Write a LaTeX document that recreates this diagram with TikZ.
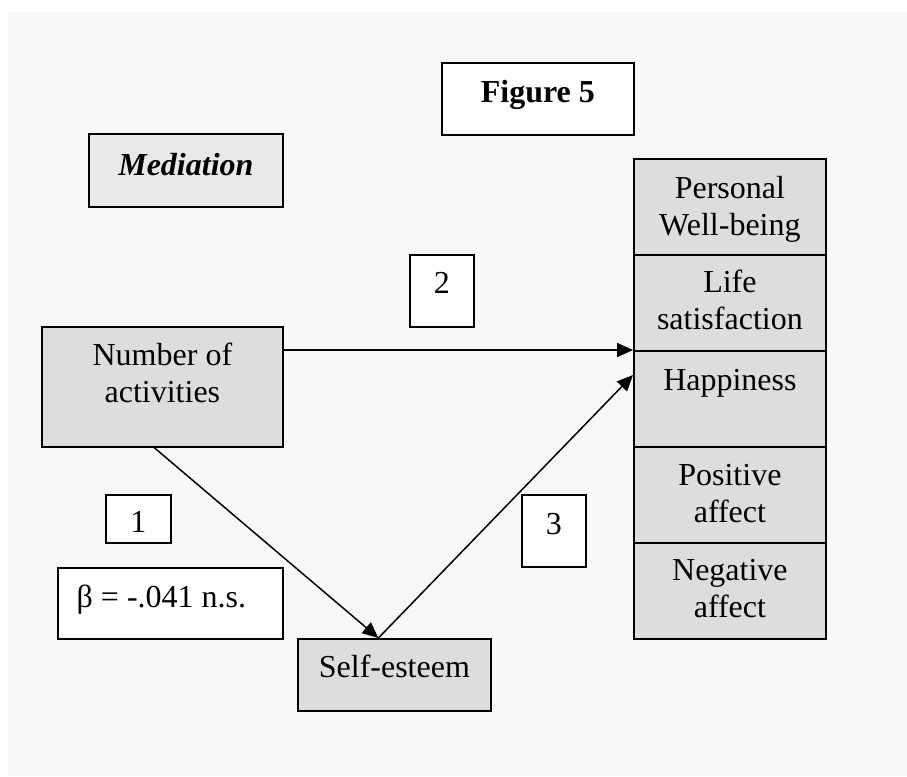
\documentclass[tikz,border=0pt]{standalone}
\usepackage{fontspec}
\setmainfont{Liberation Serif}
\usetikzlibrary{arrows.meta}
\definecolor{pagebg}{HTML}{F8F8F8}
\definecolor{boxgray}{HTML}{DDDDDD}
\definecolor{lightgray}{HTML}{E9E9E9}
\begin{document}
\begin{tikzpicture}[x=1pt,y=-1pt,
  frame/.style={draw=black, line width=1.8pt, rectangle, inner sep=0pt, anchor=north west},
  graybox/.style={frame, fill=boxgray},
  whitebox/.style={frame, fill=white},
  label/.style={anchor=base, inner sep=0pt, align=center,
    font=\fontsize{32}{37}\selectfont},
  link/.style={draw=black, line width=1.5pt, -{Triangle[length=16pt,width=14pt]}}]
  % page
  \path[use as bounding box, fill=white] (0,0) rectangle (907,776);
  \fill[pagebg] (8,12) rectangle (907,776);

  % title and heading
  \node[whitebox, minimum width=192pt, minimum height=72pt] (fig) at (441,62) {};
  \node[label, font=\fontsize{32}{37}\selectfont\bfseries] at ([yshift=-40pt]fig.north) {Figure 5};
  \node[frame, fill=lightgray, minimum width=194pt, minimum height=73pt] (med) at (88,133) {};
  \node[label, font=\fontsize{32}{37}\selectfont\bfseries\itshape] at ([yshift=-42pt]med.north) {Mediation};

  % predictor and mediator (two-line labels sit on their last baseline)
  \node[graybox, minimum width=241pt, minimum height=120pt] (act) at (41,326) {};
  \node[label] at ([yshift=-76pt]act.north) {Number of\\activities};
  \node[graybox, minimum width=193pt, minimum height=72pt] (self) at (297,638) {};
  \node[label] at ([yshift=-39pt]self.north) {Self-esteem};

  % outcome column
  \node[graybox, minimum width=192pt, minimum height=96pt] (pwb) at (633,158) {};
  \node[label] at ([yshift=-77pt]pwb.north) {Personal\\Well-being};
  \node[graybox, minimum width=192pt, minimum height=96pt] (life) at (633,254) {};
  \node[label] at ([yshift=-75pt]life.north) {Life\\satisfaction};
  \node[graybox, minimum width=192pt, minimum height=96pt] (hap) at (633,350) {};
  \node[label] at ([yshift=-40pt]hap.north) {Happiness};
  \node[graybox, minimum width=192pt, minimum height=96pt] (pos) at (633,446) {};
  \node[label] at ([yshift=-76pt]pos.north) {Positive\\affect};
  \node[graybox, minimum width=192pt, minimum height=96pt] (neg) at (633,542) {};
  \node[label] at ([yshift=-75pt]neg.north) {Negative\\affect};

  % path numbers and coefficient
  \node[whitebox, minimum width=64pt, minimum height=72pt] (p2) at (409,254) {};
  \node[label] at ([yshift=-39pt]p2.north) {2};
  \node[whitebox, minimum width=65pt, minimum height=48pt] (p1) at (105,494) {};
  \node[label] at ([yshift=-38pt]p1.north) {1};
  \node[whitebox, minimum width=225pt, minimum height=71pt] (beta) at (57,567) {};
  \node[label] at ([xshift=-9pt,yshift=-40pt]beta.north) {β = -.041 n.s.};
  \node[whitebox, minimum width=64pt, minimum height=72pt] (p3) at (521,494) {};
  \node[label] at ([yshift=-40pt]p3.north) {3};

  % paths
  \draw[link] (act.east |- hap.north west) -- (hap.north west);
  \draw[link] ([xshift=-8pt]act.south) -- ([xshift=-16pt]self.north);
  \draw[link] ([xshift=-16pt]self.north) -- ([yshift=-25pt]hap.north west);
\end{tikzpicture}
\end{document}
